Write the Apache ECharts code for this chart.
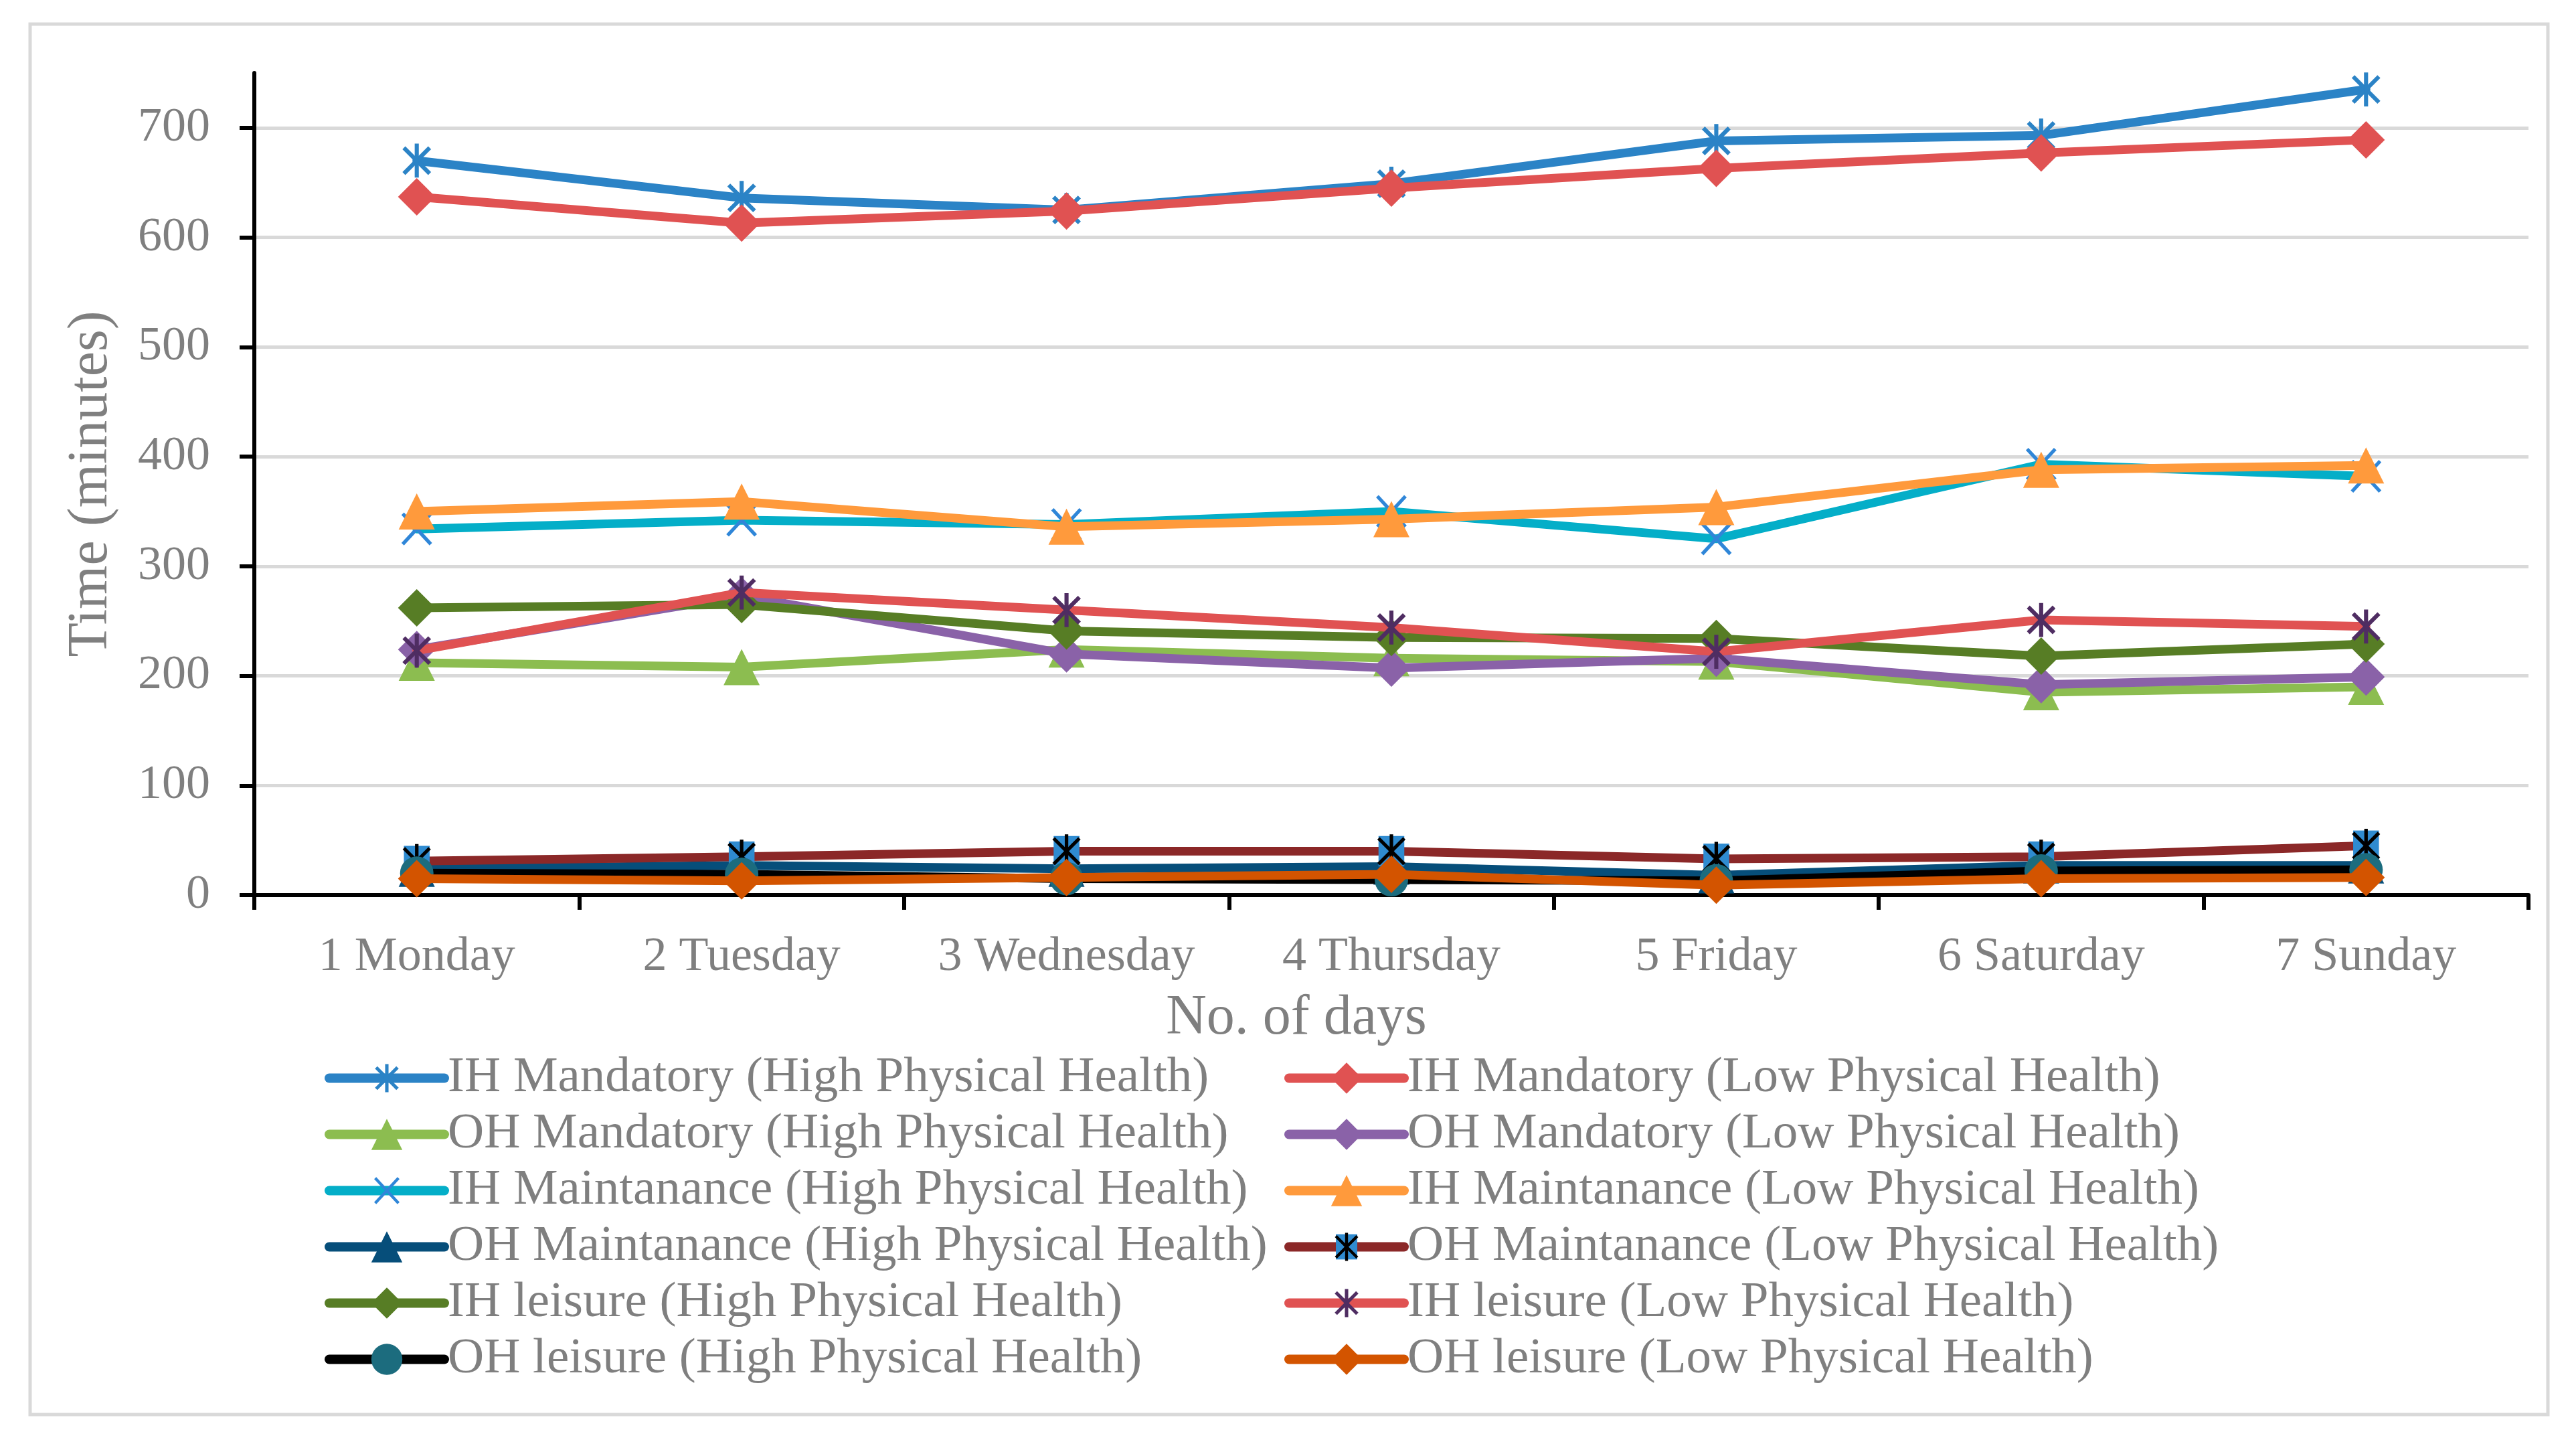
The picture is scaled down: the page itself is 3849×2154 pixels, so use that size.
<!DOCTYPE html>
<html>
<head>
<meta charset="utf-8">
<script src="https://cdn.jsdelivr.net/npm/echarts@6/dist/echarts.min.js"></script>
<style>
html,body{margin:0;padding:0;background:#ffffff;}
#chart{width:3849px;height:2154px;}
</style>
</head>
<body>
<div id="chart"></div>
<script>
// ---------------- data ----------------
const categories = ['1 Monday', '2 Tuesday', '3 Wednesday', '4 Thursday', '5 Friday', '6 Saturday', '7 Sunday'];
const yTicks = [0, 100, 200, 300, 400, 500, 600, 700];
const yMax = 750;

const ihMandatoryHigh   = [670, 636, 625, 649, 688, 693, 735];
const ihMandatoryLow    = [637, 613, 624, 645, 663, 677, 689];
const ohMandatoryHigh   = [212, 208, 224, 216, 213, 185, 190];
const ohMandatoryLow    = [224, 273, 220, 207, 216, 192, 199];
const ihMaintHigh       = [334, 342, 338, 350, 325, 393, 382];
const ihMaintLow        = [350, 359, 336, 343, 354, 388, 392];
const ohMaintHigh       = [24, 27, 24, 26, 18, 27, 27];
const ohMaintLow        = [31, 35, 40, 40, 33, 35, 45];
const ihLeisureHigh     = [262, 265, 241, 235, 234, 218, 229];
const ihLeisureLow      = [223, 276, 260, 244, 222, 251, 245];
const ohLeisureHigh     = [20, 19, 15, 14, 13, 22, 23];
const ohLeisureLow      = [15, 13, 16, 19, 9, 15, 16];

const seriesNames = [
  'IH Mandatory (High Physical Health)', 'IH Mandatory (Low Physical Health)',
  'OH Mandatory (High Physical Health)', 'OH Mandatory (Low Physical Health)',
  'IH Maintanance (High Physical Health)', 'IH Maintanance (Low Physical Health)',
  'OH Maintanance (High Physical Health)', 'OH Maintanance (Low Physical Health)',
  'IH leisure (High Physical Health)', 'IH leisure (Low Physical Health)',
  'OH leisure (High Physical Health)', 'OH leisure (Low Physical Health)'
];
const seriesValues = [
  ihMandatoryHigh, ihMandatoryLow, ohMandatoryHigh, ohMandatoryLow,
  ihMaintHigh, ihMaintLow, ohMaintHigh, ohMaintLow,
  ihLeisureHigh, ihLeisureLow, ohLeisureHigh, ohLeisureLow
];

// ---------------- styles ----------------
function svgSymbol(inner) {
  const svg = '<svg xmlns="http://www.w3.org/2000/svg" width="64" height="64" viewBox="0 0 64 64">' + inner + '</svg>';
  return 'image://data:image/svg+xml;charset=utf-8,' + encodeURIComponent(svg);
}
function asterisk(c, w) {
  return '<g stroke="' + c + '" stroke-width="' + w + '" fill="none">' +
    '<line x1="10" y1="10" x2="54" y2="54"/><line x1="54" y1="10" x2="10" y2="54"/>' +
    '<line x1="32" y1="3" x2="32" y2="61"/></g>';
}
function xmark(c, w) {
  return '<g stroke="' + c + '" stroke-width="' + w + '" fill="none">' +
    '<line x1="8" y1="6" x2="56" y2="58"/><line x1="56" y1="6" x2="8" y2="58"/></g>';
}
const symStarBlue = svgSymbol(asterisk('#2B83C6', 7));
const symXBlue = svgSymbol(xmark('#2F86D8', 6));
const symSquareStar = svgSymbol('<rect x="10" y="6" width="44" height="52" fill="#2F8BD0"/>' + asterisk('#000000', 6));
const symStarPurple = svgSymbol(asterisk('#4F2D62', 7));

const styles = [
  {line: '#2B83C6', marker: '#2B83C6', symbol: symStarBlue, size: 56},
  {line: '#E05252', marker: '#E05252', symbol: 'diamond', size: 56},
  {line: '#8CBD50', marker: '#8CBD50', symbol: 'triangle', size: 54},
  {line: '#8A62A8', marker: '#8A62A8', symbol: 'diamond', size: 56},
  {line: '#04AEC8', marker: '#2F86D8', symbol: symXBlue, size: 56},
  {line: '#FF9A3C', marker: '#FF9A3C', symbol: 'triangle', size: 54},
  {line: '#064E7A', marker: '#064E7A', symbol: 'triangle', size: 54},
  {line: '#8B2828', marker: '#2F8BD0', symbol: symSquareStar, size: 56},
  {line: '#577D25', marker: '#577D25', symbol: 'diamond', size: 56},
  {line: '#E05252', marker: '#4F2D62', symbol: symStarPurple, size: 56},
  {line: '#000000', marker: '#1C6C7E', symbol: 'circle', size: 50},
  {line: '#D35400', marker: '#D35400', symbol: 'diamond', size: 56}
];

const FONT = "'Liberation Serif', 'Times New Roman', serif";
const TEXT_GRAY = '#7F7F7F';
const LINE_W = 13;

const series = seriesNames.map(function (name, i) {
  const s = styles[i];
  return {
    name: name,
    type: 'line',
    data: seriesValues[i],
    symbol: s.symbol,
    symbolSize: s.size,
    showAllSymbol: true,
    lineStyle: {color: s.line, width: LINE_W, join: 'round', cap: 'round'},
    itemStyle: {color: s.marker, borderWidth: 0},
    emphasis: {disabled: true},
    z: 2 + i * 0.01
  };
});

const highNames = seriesNames.filter(function (n, i) { return i % 2 === 0; });
const lowNames = seriesNames.filter(function (n, i) { return i % 2 === 1; });

function legendFor(names, left) {
  return {
    orient: 'vertical',
    left: left,
    top: 1568,
    itemWidth: 172,
    itemHeight: 58,
    itemGap: 9,
    selectedMode: false,
    data: names,
    lineStyle: {width: LINE_W + 1},
    textStyle: {fontFamily: FONT, fontSize: 75, lineHeight: 75, color: TEXT_GRAY, padding: [0, 0, 0, 0]}
  };
}

const option = {
  backgroundColor: '#ffffff',
  animation: false,
  textStyle: {fontFamily: FONT},
  graphic: [{
    type: 'rect', silent: true, z: -10,
    shape: {x: 45, y: 36, width: 3762, height: 2077},
    style: {fill: 'none', stroke: '#D9D9D9', lineWidth: 5}
  }],
  grid: {left: 380, right: 71, top: 109, bottom: 817, containLabel: false},
  xAxis: {
    type: 'category',
    data: categories,
    boundaryGap: true,
    axisLine: {show: true, lineStyle: {color: '#000000', width: 6}},
    axisTick: {show: true, length: 22, lineStyle: {color: '#000000', width: 6}},
    axisLabel: {interval: 0, margin: 57, fontSize: 72, color: TEXT_GRAY, fontFamily: FONT},
    splitLine: {show: false},
    name: 'No. of days',
    nameLocation: 'middle',
    nameGap: 143,
    nameTextStyle: {fontFamily: FONT, fontSize: 84, lineHeight: 84, color: TEXT_GRAY, padding: [0, 284, 0, 0]}
  },
  yAxis: {
    type: 'value',
    min: 0,
    max: yMax,
    interval: 100,
    axisLine: {show: true, lineStyle: {color: '#000000', width: 6}},
    axisTick: {show: true, length: 22, lineStyle: {color: '#000000', width: 6}, customValues: yTicks},
    axisLabel: {margin: 66, fontSize: 72, color: TEXT_GRAY, fontFamily: FONT, customValues: yTicks},
    splitLine: {show: true, lineStyle: {color: '#D9D9D9', width: 5}},
    name: 'Time (minutes)',
    nameLocation: 'middle',
    nameGap: 201,
    nameTextStyle: {fontFamily: FONT, fontSize: 84, lineHeight: 84, color: TEXT_GRAY}
  },
  legend: [legendFor(highNames, 480), legendFor(lowNames, 1914)],
  series: series
};

const chart = echarts.init(document.getElementById('chart'), null, {renderer: 'canvas'});
chart.setOption(option);
</script>
</body>
</html>
